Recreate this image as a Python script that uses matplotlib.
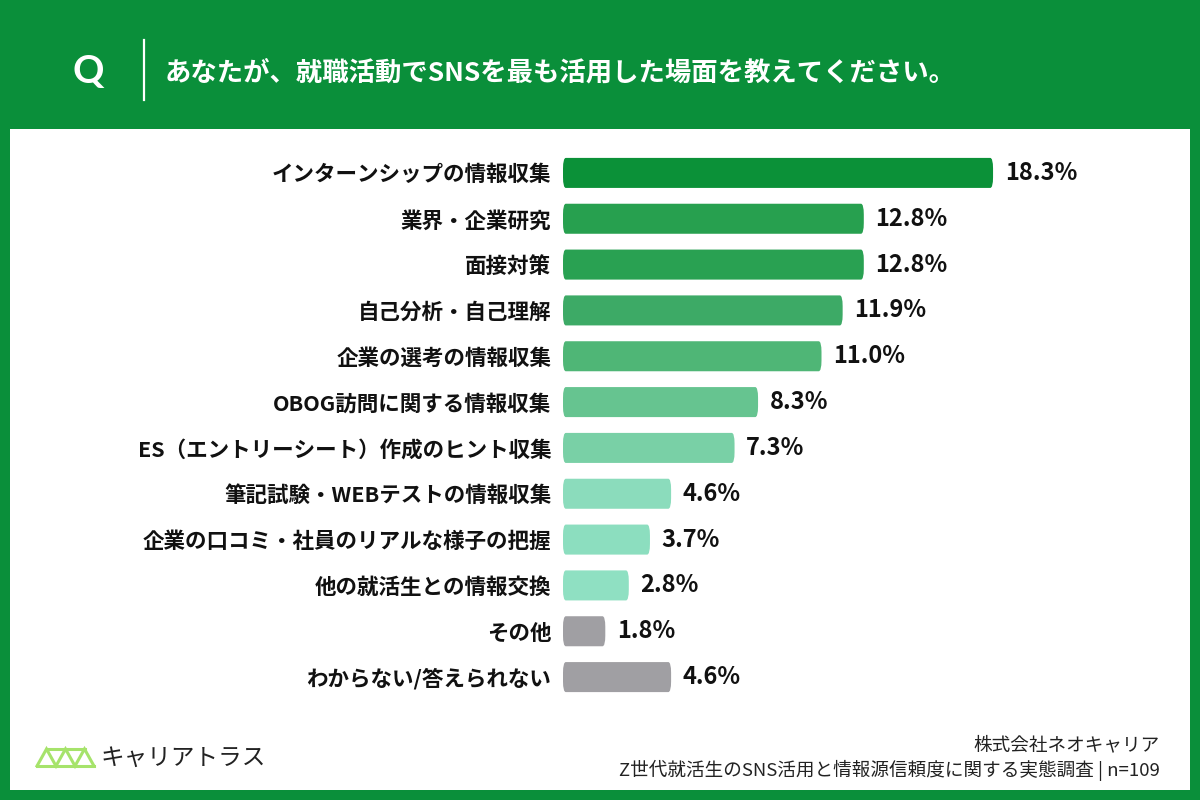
import matplotlib
matplotlib.use("Agg")
import matplotlib.pyplot as plt
from matplotlib.patches import Rectangle, FancyBboxPatch
from matplotlib.lines import Line2D

plt.rcParams['font.family'] = ['Noto Sans CJK JP', 'DejaVu Sans']

categories = [
    "インターンシップの情報収集",
    "業界・企業研究",
    "面接対策",
    "自己分析・自己理解",
    "企業の選考の情報収集",
    "OBOG訪問に関する情報収集",
    "ES（エントリーシート）作成のヒント収集",
    "筆記試験・WEBテストの情報収集",
    "企業の口コミ・社員のリアルな様子の把握",
    "他の就活生との情報交換",
    "その他",
    "わからない/答えられない",
]
values = [18.3, 12.8, 12.8, 11.9, 11.0, 8.3, 7.3, 4.6, 3.7, 2.8, 1.8, 4.6]
colors = ["#0b9138", "#27a04f", "#29a152", "#3daa66", "#4fb676", "#66c490",
          "#79d0a6", "#8bdcbc", "#8cdebf", "#8fe0c2", "#a09fa3", "#a09fa3"]

title = "あなたが、就職活動でSNSを最も活用した場面を教えてください。"
company = "株式会社ネオキャリア"
source = "Z世代就活生のSNS活用と情報源信頼度に関する実態調査 | n=109"
brand = "キャリアトラス"

W, H = 1200, 800
GREEN = "#0a8f3a"
fig = plt.figure(figsize=(12, 8), dpi=100)
fig.patch.set_facecolor(GREEN)

def fx(px):
    return px / W

def fy(py):
    return 1 - py / H

# white panel
fig.patches.append(Rectangle((fx(10), fy(790)), fx(1180), (790 - 129) / H,
                             transform=fig.transFigure, facecolor="white",
                             edgecolor="none", zorder=-5))

# header
fig.text(fx(88), fy(72), "Q", color="white", fontsize=28, fontweight="bold",
         ha="center", va="center", family=['Lato', 'DejaVu Sans'])
fig.add_artist(Line2D([fx(144), fx(144)], [fy(40), fy(100)], color="white",
                      lw=1.6, transform=fig.transFigure))
fig.text(fx(165), fy(73), title, color="white", fontsize=19, fontweight="bold",
         ha="left", va="center")

# bar axes
px_per_unit = 23.5
left_px = 563
xmax = 25.5
ax = fig.add_axes([fx(left_px), (H - 700) / H, xmax * px_per_unit / W, 550 / H])
ax.set_zorder(5)
ax.set_facecolor("none")
n = len(categories)
ypos = list(range(n))
bar_h = 30 / 45.8
for i, (v, c) in enumerate(zip(values, colors)):
    p = FancyBboxPatch((0, i - bar_h / 2), v, bar_h,
                       boxstyle="round,pad=0,rounding_size=0.12",
                       mutation_aspect=1 / (px_per_unit / 45.8),
                       facecolor=c, edgecolor="none")
    ax.add_patch(p)
    ax.annotate(f"{v:.1f}%", xy=(v, i), xytext=(8.5, 0),
                textcoords="offset points", ha="left", va="center",
                fontsize=17, fontweight="bold", color="#111111")
ax.set_xlim(0, xmax)
ax.set_ylim(n - 0.5, -0.5)
ax.set_yticks(ypos)
ax.set_yticklabels(categories, fontsize=15.5, fontweight="bold", color="#111111")
ax.tick_params(axis="y", length=0, pad=8.5)
ax.set_xticks([])
for s in ax.spines.values():
    s.set_visible(False)

# logo
b, t = fy(766), fy(749)
bx = [37, 56, 75, 94]
tx = [46.5, 65.5, 84.5]
zig_x, zig_y = [], []
for k in range(3):
    zig_x += [fx(bx[k]), fx(tx[k])]
    zig_y += [b, t]
zig_x.append(fx(bx[3]))
zig_y.append(b)
lc = "#a6e36b"
fig.add_artist(Line2D(zig_x, zig_y, color=lc, lw=2.2, transform=fig.transFigure,
                      solid_joinstyle="miter"))
fig.add_artist(Line2D([fx(46.5), fx(84.5)], [t, t], color=lc, lw=2.2,
                      transform=fig.transFigure))
fig.add_artist(Line2D([fx(37), fx(94)], [b, b], color=lc, lw=2.2,
                      transform=fig.transFigure))
fig.text(fx(100), fy(758), brand, fontsize=17, color="#222222",
         ha="left", va="center")

# footer
fig.text(fx(1160), fy(745), company, fontsize=13.4, color="#222222",
         ha="right", va="center")
fig.text(fx(1160), fy(770), source, fontsize=13.4, color="#222222",
         ha="right", va="center")

fig.savefig("out.png", dpi=100, facecolor=fig.get_facecolor())
